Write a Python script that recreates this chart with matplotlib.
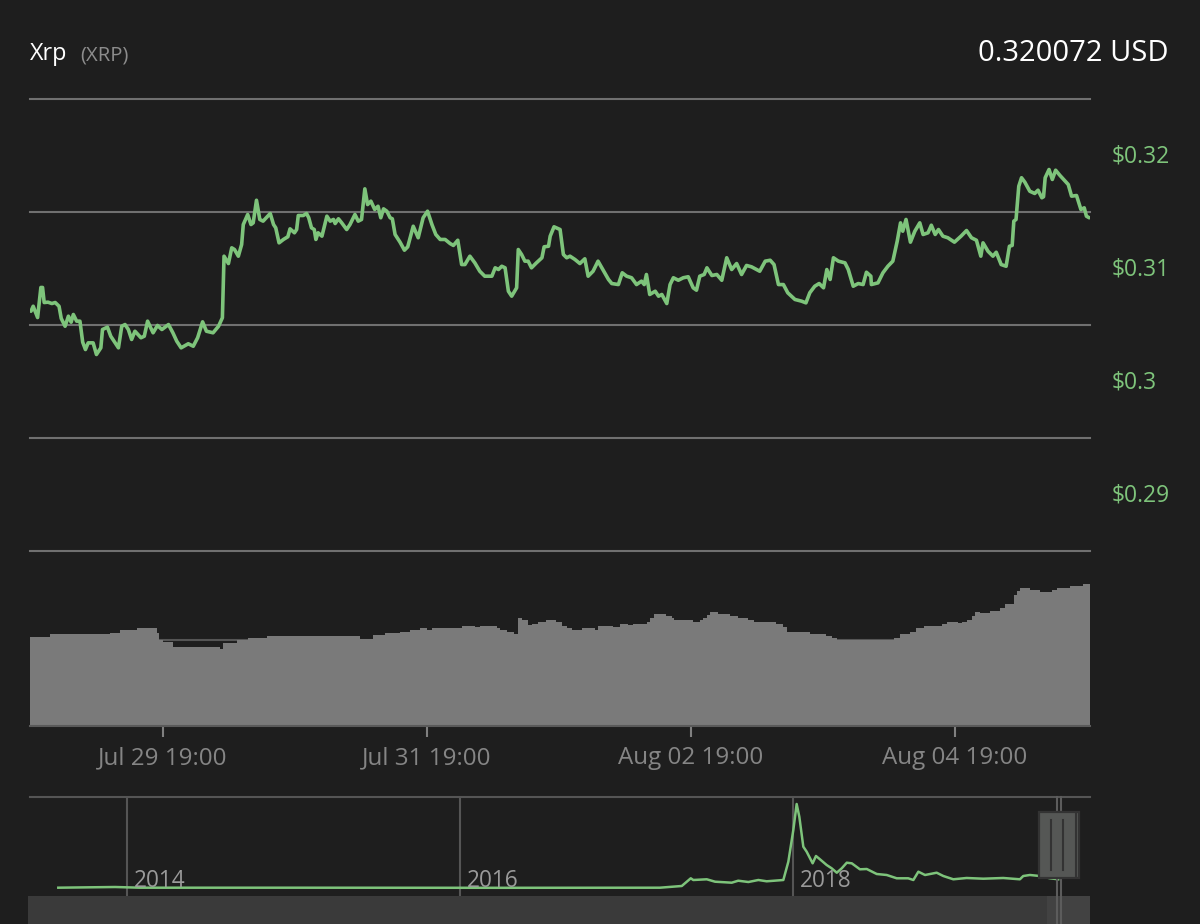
import numpy as np
import pandas as pd
import matplotlib
matplotlib.use("Agg")
import matplotlib.pyplot as plt
import matplotlib.dates as mdates
import matplotlib.transforms as mtransforms
from matplotlib.patches import Rectangle
from matplotlib.lines import Line2D

plt.rcParams['font.family'] = ['Open Sans', 'DejaVu Sans']

# ---------------- data ----------------
BASE = pd.Timestamp("2019-07-29 19:00")

price_hours = [
    -24.0, -23.6, -22.8, -22.2, -21.9, -21.6, -20.9, -20.2, -19.6, -18.9, -18.5, -17.8, -17.2, -16.7,
    -16.3, -15.7, -15.1, -14.6, -14.1, -13.6, -12.7, -12.1, -11.3, -11.0, -10.1, -9.5, -8.7, -8.1,
    -7.5, -6.9, -6.3, -5.7, -5.1, -4.0, -3.4, -2.8, -1.8, -1.0, -0.2, 1.0, 1.8, 2.5, 3.3, 4.6, 5.5,
    6.3, 7.2, 7.9, 9.1, 10.1, 10.8, 11.1, 11.9, 12.5, 13.0, 13.7, 14.3, 14.6, 15.4, 16.0, 16.4, 17.0,
    17.6, 18.2, 19.5, 20.1, 20.5, 21.1, 21.9, 22.7, 23.1, 23.9, 24.3, 24.6, 25.5, 26.1, 26.5, 27.0,
    27.5, 27.8, 28.2, 28.9, 29.8, 30.4, 31.0, 31.3, 31.9, 32.5, 33.4, 34.0, 34.9, 35.5, 36.1, 36.7,
    37.2, 37.8, 38.5, 39.1, 39.6, 40.1, 40.7, 41.3, 41.7, 42.2, 43.1, 43.9, 44.5, 45.5, 46.4, 47.3,
    48.1, 48.9, 49.6, 50.4, 51.3, 52.2, 52.8, 53.6, 54.3, 54.9, 55.8, 56.7, 57.6, 58.5, 59.8, 60.4,
    61.0, 61.6, 62.2, 62.8, 63.4, 64.3, 64.6, 65.2, 65.8, 66.4, 67.0, 67.9, 68.9, 69.3, 70.1, 70.4,
    71.1, 72.2, 72.8, 73.4, 74.0, 74.9, 75.8, 76.7, 77.3, 78.2, 79.1, 79.8, 81.0, 81.6, 82.8, 83.5,
    84.3, 85.2, 86.1, 87.0, 87.5, 87.9, 88.5, 89.5, 90.1, 90.7, 91.6, 92.2, 92.8, 93.7, 94.6, 95.5,
    96.4, 97.0, 97.6, 98.4, 98.9, 99.8, 100.7, 101.6, 102.5, 103.4, 104.3, 105.2, 106.1, 107.0,
    108.5, 109.5, 110.4, 111.1, 111.9, 112.8, 113.6, 114.9, 116.1, 116.9, 117.6, 118.5, 119.3,
    120.1, 120.7, 121.3, 121.9, 122.8, 124.0, 124.6, 125.5, 126.4, 127.3, 127.9, 128.7, 128.8,
    130.0, 130.9, 131.8, 132.7, 133.5, 134.1, 134.5, 135.1, 135.9, 136.7, 137.6, 138.2, 139.1,
    139.7, 140.4, 141.0, 141.8, 142.7, 143.9, 145.1, 146.1, 147.0, 147.9, 148.7, 149.1, 150.0,
    150.9, 151.5, 152.4, 153.3, 153.9, 154.4, 154.7, 155.1, 155.6, 156.1, 156.7, 157.6, 158.5,
    159.1, 159.8, 160.1, 160.4, 161.1, 161.7, 162.3, 163.1, 163.9, 164.6, 165.2, 166.1, 166.9,
    167.5, 167.9, 168.4,
]
price_values = [
    0.31122, 0.31166, 0.31066, 0.31332, 0.31332, 0.31199, 0.31202, 0.31190, 0.31199, 0.31166,
    0.31058, 0.30989, 0.31078, 0.31025, 0.31093, 0.31034, 0.31034, 0.30848, 0.30783, 0.30842,
    0.30842, 0.30739, 0.30798, 0.30960, 0.30981, 0.30901, 0.30842, 0.30798, 0.30989, 0.31004,
    0.30960, 0.30872, 0.30945, 0.30887, 0.30901, 0.31034, 0.30931, 0.30996, 0.30960, 0.31004,
    0.30931, 0.30857, 0.30798, 0.30834, 0.30812, 0.30887, 0.31028, 0.30945, 0.30931, 0.30989,
    0.31064, 0.31609, 0.31544, 0.31683, 0.31668, 0.31609, 0.31712, 0.31889, 0.31978, 0.31889,
    0.31904, 0.32104, 0.31934, 0.31919, 0.31987, 0.31889, 0.31860, 0.31727, 0.31757, 0.31781,
    0.31851, 0.31816, 0.31845, 0.31969, 0.31969, 0.31987, 0.31949, 0.31860, 0.31845, 0.31757,
    0.31816, 0.31786, 0.31963, 0.31919, 0.31934, 0.31898, 0.31940, 0.31904, 0.31845, 0.31889,
    0.31978, 0.31919, 0.31934, 0.32205, 0.32066, 0.32096, 0.32022, 0.32051, 0.31949, 0.32028,
    0.32007, 0.31949, 0.31940, 0.31801, 0.31733, 0.31662, 0.31692, 0.31874, 0.31772, 0.31949,
    0.32007, 0.31889, 0.31801, 0.31757, 0.31757, 0.31721, 0.31704, 0.31750, 0.31535, 0.31535,
    0.31609, 0.31550, 0.31476, 0.31432, 0.31432, 0.31506, 0.31491, 0.31520, 0.31506, 0.31299,
    0.31255, 0.31329, 0.31668, 0.31624, 0.31565, 0.31565, 0.31506, 0.31550, 0.31595, 0.31692,
    0.31697, 0.31786, 0.31869, 0.31845, 0.31624, 0.31595, 0.31609, 0.31580, 0.31544, 0.31586,
    0.31432, 0.31476, 0.31565, 0.31506, 0.31403, 0.31367, 0.31358, 0.31462, 0.31432, 0.31418,
    0.31358, 0.31388, 0.31358, 0.31447, 0.31270, 0.31299, 0.31255, 0.31270, 0.31190, 0.31358,
    0.31418, 0.31396, 0.31418, 0.31427, 0.31329, 0.31308, 0.31432, 0.31447, 0.31506, 0.31438,
    0.31447, 0.31396, 0.31595, 0.31491, 0.31544, 0.31447, 0.31527, 0.31515, 0.31476, 0.31565,
    0.31573, 0.31535, 0.31358, 0.31358, 0.31285, 0.31226, 0.31211, 0.31196, 0.31285, 0.31343,
    0.31367, 0.31329, 0.31491, 0.31403, 0.31595, 0.31565, 0.31550, 0.31491, 0.31343, 0.31367,
    0.31358, 0.31467, 0.31432, 0.31358, 0.31373, 0.31462, 0.31520, 0.31565, 0.31742, 0.31904,
    0.31830, 0.31934, 0.31733, 0.31830, 0.31904, 0.31801, 0.31816, 0.31883, 0.31801, 0.31845,
    0.31786, 0.31772, 0.31733, 0.31786, 0.31836, 0.31772, 0.31750, 0.31609, 0.31727, 0.31653,
    0.31609, 0.31644, 0.31535, 0.31520, 0.31697, 0.31704, 0.31919, 0.31934, 0.32228, 0.32303,
    0.32264, 0.32184, 0.32164, 0.32193, 0.32126, 0.32135, 0.32303, 0.32376, 0.32288, 0.32370,
    0.32323, 0.32281, 0.32243, 0.32140, 0.32146, 0.32022, 0.32037, 0.31963, 0.31949,
]

volume_hours = [
    -24.2, -20.5, -9.6, -7.8, -4.7, -1.1, -0.7, 0.0, 1.8, 4.4, 10.4, 10.9, 13.5, 15.5, 18.9, 35.8,
    38.2, 40.4, 43.1, 44.9, 46.7, 48.0, 48.9, 54.4, 56.7, 57.6, 60.7, 61.3, 62.5, 63.8, 64.5, 65.3,
    66.4, 67.1, 68.2, 69.6, 71.5, 72.5, 73.5, 74.4, 76.2, 78.5, 79.1, 81.8, 83.1, 84.5, 85.5, 88.0,
    88.5, 89.3, 91.5, 92.5, 92.9, 96.4, 97.6, 98.2, 98.9, 99.5, 100.9, 103.1, 104.5, 106.4, 107.5,
    111.5, 112.7, 113.5, 117.6, 120.5, 121.6, 122.5, 132.9, 134.0, 135.8, 136.9, 138.4, 141.6,
    142.5, 144.5, 145.3, 146.2, 147.1, 147.6, 148.5, 150.4, 152.2, 153.1, 154.7, 155.3, 155.8,
    157.6, 159.5, 161.6, 162.5, 164.9, 167.3, 168.6,
]
volume_values = [  # 24h volume, million USD
    518, 532, 541, 557, 567, 539, 499, 489, 456, 460, 447, 481, 499, 509, 522, 505,
    528, 538, 545, 557, 567, 557, 568, 580, 572, 580, 568, 557, 545, 534, 626, 615,
    586, 592, 603, 615, 603, 580, 568, 557, 568, 557, 580, 576, 592, 586, 592, 605,
    626, 650, 638, 626, 615, 603, 615, 626, 644, 661, 650, 638, 626, 615, 603,
    592, 576, 545, 534, 522, 510, 499, 510, 534, 545, 568, 580, 592,
    603, 596, 605, 615, 638, 661, 654, 665, 684, 708, 758, 781, 800,
    789, 777, 789, 800, 812, 824, 824,
]

nav_years = [
    2013.587, 2013.928, 2014.078, 2015.039, 2016.240, 2017.201, 2017.332, 2017.386, 2017.401,
    2017.482, 2017.532, 2017.632, 2017.671, 2017.732, 2017.792, 2017.842, 2017.942, 2017.972,
    2018.002, 2018.022, 2018.038, 2018.062, 2018.082, 2018.118, 2018.138, 2018.162, 2018.202,
    2018.232, 2018.263, 2018.293, 2018.323, 2018.353, 2018.402, 2018.443, 2018.503, 2018.563,
    2018.623, 2018.692, 2018.723, 2018.753, 2018.793, 2018.863, 2018.903, 2018.963, 2019.043,
    2019.143, 2019.263, 2019.363, 2019.383, 2019.423, 2019.483, 2019.544, 2019.593,
]
nav_values = [
    0.012, 0.039, 0.012, 0.012, 0.008, 0.012, 0.079, 0.382, 0.315,
    0.343, 0.248, 0.209, 0.287, 0.236, 0.315, 0.264, 0.315, 1.035,
    2.283, 3.307, 2.807, 1.626, 1.430, 0.972, 1.260, 1.130, 0.906,
    0.776, 0.602, 0.776, 0.996, 0.972, 0.736, 0.748, 0.551, 0.512,
    0.382, 0.382, 0.315, 0.642, 0.512, 0.602, 0.472, 0.343, 0.394,
    0.366, 0.394, 0.343, 0.472, 0.512, 0.472, 0.382, 0.343,
]

price_label_levels = [0.29, 0.30, 0.31, 0.32]
price_grid_levels = [0.29, 0.30, 0.31, 0.32, 0.33]
x_tick_hours = [0, 48, 96, 144]
year_ticks = [2014, 2016, 2018]
range_years = [2019.584, 2019.611]

# ---------------- style ----------------
BG = '#1e1e1e'
GREEN = '#7ec47b'
GRID = '#707070'
DARKLINE = '#555555'
W, H = 1200, 924


def to_num(hours):
    return mdates.date2num((BASE + pd.to_timedelta(hours, unit='h')).to_pydatetime())


def frac(l, t, r, b):
    return [l / W, 1 - b / H, (r - l) / W, (b - t) / H]


fig = plt.figure(figsize=(W / 100, H / 100), dpi=100, facecolor=BG)

ax = fig.add_axes(frac(30, 99, 1090, 551))
axv = fig.add_axes(frac(30, 551, 1090, 726))
axn = fig.add_axes(frac(30, 797, 1090, 896))

for a in (ax, axv, axn):
    a.set_facecolor('none')
    for s in a.spines.values():
        s.set_visible(False)
    a.tick_params(left=False, labelleft=False, bottom=False, labelbottom=False)

xlo, xhi = to_num([-24.18, 168.55])

# ---- price ----
ax.set_xlim(xlo, xhi)
ax.set_ylim(0.29, 0.33)
for g in price_grid_levels:
    ax.axhline(g, color=GRID, lw=1.5, clip_on=False, zorder=1)
ax.plot(to_num(price_hours), price_values, color=GREEN, lw=2.6, zorder=3,
        solid_joinstyle='round', solid_capstyle='round')
btr = mtransforms.blended_transform_factory(ax.transAxes, ax.transData)
for v in price_label_levels:
    ax.text(1.0208, v + 0.0044, "\\$" + f"{v:g}", transform=btr, color=GREEN,
            fontsize=16.5, ha='left', va='baseline', clip_on=False)

# ---- volume ----
axv.set_xlim(xlo, xhi)
axv.set_ylim(0, 1015)
axv.axhline(500, color=DARKLINE, lw=1.5, zorder=0)
axv.fill_between(to_num(volume_hours), volume_values, 0, step='post',
                 color='#7a7a7a', lw=0, zorder=2)
axv.spines['bottom'].set_visible(True)
axv.spines['bottom'].set_color('#5a5a5a')
axv.spines['bottom'].set_linewidth(1.5)
axv.spines['bottom'].set_zorder(3)
axv.set_xticks(to_num(x_tick_hours))
axv.xaxis.set_major_formatter(mdates.DateFormatter('%b %d %H:%M'))
axv.tick_params(bottom=True, labelbottom=True, length=8, width=1.5, color='#808080',
                labelcolor='#858585', labelsize=17.4, pad=6.5)

# ---- navigator ----
axn.set_xlim(2013.417, 2019.784)
axn.set_ylim(-0.315, 3.583)
axn.spines['top'].set_visible(True)
axn.spines['top'].set_color(DARKLINE)
axn.spines['top'].set_linewidth(1.5)
ntr = mtransforms.blended_transform_factory(axn.transData, axn.transAxes)
for yr in year_ticks:
    axn.axvline(yr, color=DARKLINE, lw=1.5, zorder=1)
    axn.text(yr + 7 / 166.5, 0.088, str(yr), transform=ntr, color='#9a9a9a',
             fontsize=16.3, ha='left', va='baseline')
axn.plot(nav_years, nav_values, color=GREEN, lw=1.8, zorder=2)

# scrollbar
fig.add_artist(Rectangle((28 / W, 0), (1090 - 28) / W, 28 / H, transform=fig.transFigure,
                         facecolor='#3a3a3a', edgecolor='none', zorder=1))
fig.add_artist(Rectangle((1047 / W, 0), (1090 - 1047) / W, 28 / H, transform=fig.transFigure,
                         facecolor='#424242', edgecolor='none', zorder=1))
# range boundary lines
rtr = mtransforms.blended_transform_factory(axn.transData, fig.transFigure)
for ry in range_years:
    fig.add_artist(Line2D([ry, ry], [0, 1 - 797 / H], transform=rtr, color='#5c5c5c',
                          lw=1.5, zorder=4))
# handle
fig.add_artist(Rectangle((1039.3 / W, 1 - 877.7 / H), 39.4 / W, 65.4 / H,
                         transform=fig.transFigure, facecolor='#555755',
                         edgecolor='#333333', lw=1.6, zorder=5))
for hx, y0, y1 in [(1050.7, 820, 870), (1062.7, 820, 870), (1075.7, 813, 877)]:
    fig.add_artist(Line2D([hx / W, hx / W], [1 - y1 / H, 1 - y0 / H], transform=fig.transFigure,
                          color='#333333', lw=1.5, zorder=6))

# ---- header ----
fig.text(30 / W, 1 - 60 / H, "Xrp", color='#ffffff', fontsize=16.8, ha='left', va='baseline')
fig.text(80 / W, 1 - 60 / H, "(XRP)", color='#8c8c8c', fontsize=14.6, ha='left', va='baseline')
fig.text(1169 / W, 1 - 60.7 / H, "0.320072 USD", color='#ffffff', fontsize=21,
         ha='right', va='baseline')

fig.savefig('out.png', dpi=100, facecolor=BG)
